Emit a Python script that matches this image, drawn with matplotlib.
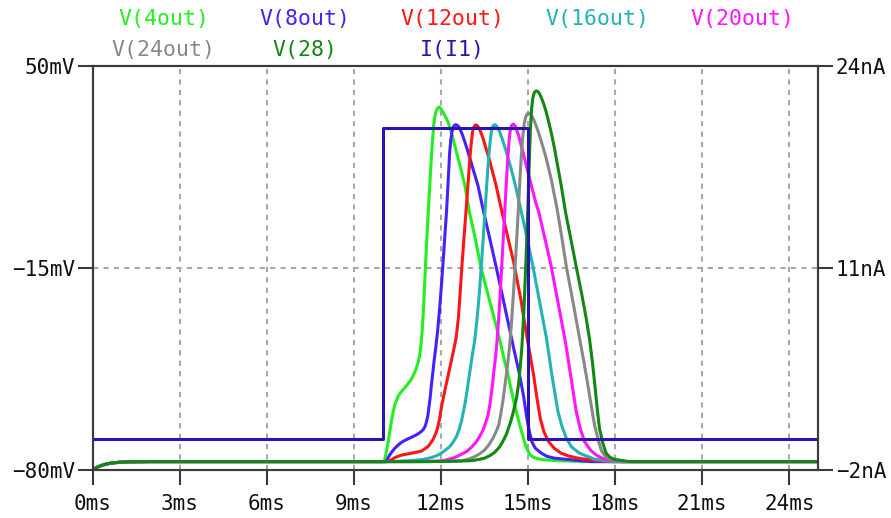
import matplotlib
matplotlib.use("Agg")
import matplotlib.pyplot as plt

# ---------------- data ----------------
rest_t = [0.0, 0.1, 0.2, 0.35, 0.5, 0.7, 0.95, 1.3, 2.0]
rest_v = [-80.0, -79.4, -78.9, -78.4, -78.0, -77.7, -77.5, -77.35, -77.3]
end_t = 25.0
end_v = -77.3

v4_t = [10.0, 10.03, 10.06, 10.12, 10.18, 10.24, 10.29, 10.35, 10.41, 10.47, 10.52, 10.6, 10.69,
        10.78, 10.86, 10.95, 11.03, 11.1, 11.15, 11.22, 11.27, 11.31, 11.35, 11.39, 11.43, 11.48,
        11.53, 11.58, 11.63, 11.68, 11.72, 11.75, 11.78, 11.81, 11.85, 11.9, 11.94, 11.98, 12.03,
        12.09, 12.16, 12.24, 12.38, 12.53, 12.68, 12.82, 12.98, 13.18, 13.37, 13.57, 13.76, 13.9,
        14.02, 14.13, 14.31, 14.51, 14.71, 14.91, 15.05, 15.18, 15.34, 15.55, 15.8, 16.3, 17.0]
v4_v = [-77.3, -77.2, -76.8, -73.9, -70.9, -67.4, -64.4, -61.4, -59.0, -57.5, -56.3, -55.2, -54.2,
        -53.2, -52.3, -51.2, -49.9, -48.5, -47.2, -45.2, -42.8, -39.8, -35.5, -29.5, -21.5, -11.5,
        -2.5, 6.0, 14.5, 22.4, 27.5, 31.0, 33.3, 34.8, 35.9, 36.6, 36.8, 36.4, 35.8,
        34.8, 33.6, 32.1, 27.8, 22.4, 17.1, 11.7, 3.0, -5.5, -14.6, -21.8, -28.5, -33.6,
        -38.0, -42.5, -49.4, -58.0, -65.5, -72.0, -74.9, -75.9, -76.4, -76.7, -76.9, -77.1, -77.3]

v8_t = [10.0, 10.06, 10.12, 10.23, 10.32, 10.41, 10.52, 10.64, 10.75, 10.86, 11.0, 11.15, 11.27,
        11.38, 11.45, 11.5, 11.55, 11.58, 11.63, 11.67, 11.72, 11.76, 11.82, 11.88, 11.94, 12.0,
        12.06, 12.13, 12.19, 12.24, 12.3, 12.34, 12.38, 12.42, 12.46, 12.5, 12.55, 12.61, 12.66,
        12.72, 12.82, 12.93, 13.1, 13.27, 13.47, 13.68, 13.9, 14.13, 14.37, 14.52, 14.71, 14.85,
        14.96, 15.05, 15.13, 15.25, 15.46, 15.65, 15.91, 16.6, 17.2]
v8_v = [-77.3, -77.3, -77.1, -75.2, -74.0, -73.0, -72.0, -71.1, -70.5, -70.0, -69.4, -68.7, -68.0,
        -67.1, -66.0, -64.5, -62.4, -60.1, -56.5, -52.6, -48.6, -45.1, -40.6, -35.6, -29.5, -22.5,
        -14.8, -5.0, 3.0, 11.7, 22.4, 26.3, 28.9, 30.2, 30.9, 31.1, 31.0, 30.5, 29.6,
        28.3, 25.6, 22.4, 17.0, 11.7, 3.0, -5.5, -14.6, -24.5, -35.0, -41.5, -49.4, -56.5,
        -63.4, -67.8, -70.9, -73.0, -74.6, -75.6, -76.2, -76.8, -77.3]

v12_t = [10.0, 10.1, 10.23, 10.41, 10.64, 10.98, 11.33, 11.55, 11.72, 11.8, 11.88, 11.95, 12.01,
         12.08, 12.15, 12.3, 12.45, 12.52, 12.6, 12.66, 12.72, 12.79, 12.86, 12.93, 12.99, 13.04,
         13.09, 13.13, 13.18, 13.24, 13.3, 13.37, 13.45, 13.56, 13.68, 13.9, 14.1, 14.3, 14.5,
         14.75, 14.94, 15.07, 15.19, 15.3, 15.42, 15.55, 15.71, 15.9, 16.14, 16.4, 16.72, 17.29, 17.8]
v12_v = [-77.3, -77.3, -77.1, -76.0, -75.2, -74.6, -73.9, -72.5, -70.3, -68.7, -66.6, -63.6, -60.1,
         -56.8, -53.7, -47.3, -40.8, -37.6, -31.0, -23.0, -14.6, -5.5, 3.0, 12.0, 19.5, 25.0,
         28.9, 30.3, 31.0, 30.9, 30.2, 28.7, 26.7, 23.2, 19.4, 11.5, 3.0, -5.0, -13.0,
         -25.0, -36.0, -43.0, -49.4, -56.5, -63.4, -67.8, -70.9, -73.0, -74.6, -75.5, -76.2, -76.9, -77.3]

v16_t = [10.0, 10.5, 11.09, 11.4, 11.67, 11.85, 12.01, 12.15, 12.3, 12.42, 12.53, 12.62, 12.7,
         12.77, 12.84, 12.9, 12.96, 13.02, 13.08, 13.16, 13.23, 13.3, 13.37, 13.44, 13.51, 13.57,
         13.63, 13.68, 13.73, 13.77, 13.82, 13.87, 13.93, 14.02, 14.12, 14.25, 14.4, 14.56, 14.77,
         14.97, 15.17, 15.4, 15.63, 15.72, 15.82, 15.93, 16.03, 16.17, 16.32, 16.5, 16.77, 17.29, 17.9]
v16_v = [-77.3, -77.2, -76.9, -76.6, -76.0, -75.4, -74.6, -73.6, -72.5, -71.0, -69.3, -67.1, -64.5,
         -61.4, -58.0, -54.4, -50.5, -46.8, -43.0, -38.5, -32.5, -25.5, -17.0, -7.5, 2.5, 11.0,
         19.0, 24.5, 28.5, 30.3, 31.0, 31.1, 30.5, 28.9, 26.3, 22.4, 17.5, 11.7, 3.0,
         -5.5, -14.6, -26.0, -37.4, -43.0, -49.4, -55.6, -61.2, -66.0, -69.8, -72.6, -74.6, -76.5, -77.3]

v20_t = [10.0, 11.0, 11.6, 12.01, 12.25, 12.47, 12.67, 12.87, 13.05, 13.22, 13.35, 13.45, 13.54,
         13.62, 13.68, 13.73, 13.78, 13.82, 13.87, 13.91, 13.96, 14.01, 14.06, 14.11, 14.16, 14.21,
         14.26, 14.31, 14.35, 14.39, 14.44, 14.5, 14.56, 14.61, 14.67, 14.74, 14.82, 14.96,
         15.11, 15.25, 15.37, 15.58, 15.8, 16.03, 16.26, 16.35, 16.43, 16.55, 16.66, 16.8, 16.95,
         17.15, 17.35, 17.55, 17.75, 18.2]
v20_v = [-77.3, -77.3, -77.2, -77.1, -76.6, -76.0, -75.1, -74.1, -72.7, -70.9, -68.9, -67.1, -64.8,
         -62.3, -59.3, -55.9, -52.0, -48.4, -44.5, -40.8, -35.0, -28.0, -20.0, -11.5, -3.0, 5.5,
         14.0, 21.5, 26.5, 29.5, 31.0, 31.3, 30.6, 29.3, 27.8, 25.3, 22.4, 17.2,
         11.7, 6.5, 3.0, -5.5, -14.6, -26.0, -37.4, -42.5, -47.3, -54.5, -61.2, -66.8, -70.9,
         -73.6, -75.2, -76.2, -76.8, -77.3]

v24_t = [10.0, 11.5, 12.2, 12.7, 12.95, 13.16, 13.33, 13.5, 13.65, 13.79, 13.91, 13.99, 14.06,
         14.13, 14.19, 14.25, 14.31, 14.37, 14.43, 14.49, 14.55, 14.61, 14.67, 14.72, 14.77, 14.82,
         14.87, 14.92, 14.97, 15.03, 15.1, 15.17, 15.25, 15.35, 15.46, 15.62, 15.8, 16.0, 16.16,
         16.32, 16.55, 16.77, 16.92, 17.06, 17.18, 17.29, 17.41, 17.52, 17.65, 17.81, 18.2]
v24_v = [-77.3, -77.3, -77.2, -77.1, -76.5, -75.7, -74.8, -73.6, -71.9, -69.8, -67.4, -65.5, -62.0,
         -58.0, -53.7, -49.4, -44.9, -39.5, -32.5, -24.0, -15.0, -5.5, 4.5, 13.5, 21.5, 27.5,
         31.5, 33.6, 34.6, 34.8, 34.4, 33.2, 31.5, 28.9, 25.6, 20.5, 13.5, 4.0, -5.0,
         -14.6, -26.0, -37.4, -45.0, -52.6, -59.5, -65.5, -70.0, -73.6, -75.5, -76.6, -77.3]

v28_t = [10.0, 11.5, 12.3, 12.7, 13.05, 13.3, 13.5, 13.7, 13.85, 14.0, 14.12, 14.25, 14.4,
         14.5, 14.6, 14.67, 14.73, 14.79, 14.85, 14.9, 14.95, 15.0, 15.04, 15.08, 15.12, 15.16,
         15.21, 15.28, 15.34, 15.4, 15.47, 15.55, 15.62, 15.68, 15.8, 15.91, 16.02, 16.14,
         16.29, 16.47, 16.66, 16.85, 17.0, 17.12, 17.22, 17.3, 17.38, 17.46, 17.58, 17.69, 17.82,
         17.98, 18.5]
v28_v = [-77.3, -77.3, -77.2, -77.1, -77.0, -76.6, -76.2, -75.3, -74.3, -72.8, -71.0, -68.6, -64.5,
         -61.0, -57.0, -52.5, -47.0, -40.0, -30.0, -19.0, -7.0, 6.0, 19.0, 29.5, 36.0, 39.5,
         41.4, 42.0, 41.8, 41.0, 39.5, 37.5, 35.3, 33.2, 28.5, 23.5, 17.8, 11.7,
         3.0, -5.5, -14.6, -23.5, -31.0, -38.0, -45.5, -52.6, -60.0, -66.6, -71.5, -74.6, -75.9,
         -76.6, -77.3]

i1_t = [0.0, 10.0, 10.0, 15.0, 15.0, 25.0]
i1_v = [0.0, 0.0, 20.0, 20.0, 0.0, 0.0]

series_names = ["V(4out)", "V(8out)", "V(12out)", "V(16out)", "V(20out)", "V(24out)", "V(28)"]
series_t = [v4_t, v8_t, v12_t, v16_t, v20_t, v24_t, v28_t]
series_v = [v4_v, v8_v, v12_v, v16_v, v20_v, v24_v, v28_v]
current_name = "I(I1)"

x_ticks = [0, 3, 6, 9, 12, 15, 18, 21, 24]
x_labels = ["0ms", "3ms", "6ms", "9ms", "12ms", "15ms", "18ms", "21ms", "24ms"]
v_ticks = [-80, -15, 50]
v_labels = ["\u221280mV", "\u221215mV", "50mV"]
i_ticks = [-2, 11, 24]
i_labels = ["\u22122nA", "11nA", "24nA"]

# ---------------- style ----------------
colors = ["#22ee22", "#4422ff", "#ff1515", "#20b4b4", "#ff15ff", "#888888", "#118811"]
i_color = "#2c12b0"
mono = ["DejaVu Sans Mono"]
frame_c = "#3a3a3a"

fig = plt.figure(figsize=(8.91, 5.18), dpi=100)
ax = fig.add_axes([92.7 / 891, 48 / 518, 725.6 / 891, 404 / 518])

for t, v, c in zip(series_t, series_v, colors):
    tt = rest_t + t + [end_t]
    vv = rest_v + v + [end_v]
    ax.plot(tt, vv, color=c, lw=2.2, solid_joinstyle="round", solid_capstyle="round")

ax.set_xlim(0, 25)
ax.set_ylim(-80, 50)
ax.set_xticks(x_ticks)
ax.set_xticklabels(x_labels)
ax.set_yticks(v_ticks)
ax.set_yticklabels(v_labels)

ax2 = ax.twinx()
ax2.plot(i1_t, i1_v, color=i_color, lw=2.2)
ax2.set_ylim(-2, 24)
ax2.set_yticks(i_ticks)
ax2.set_yticklabels(i_labels)

grid_kw = dict(color="#a8a8a8", lw=1.5, ls=(0, (2.5, 2.5)))
for x in x_ticks[1:]:
    ax.axvline(x, zorder=0.5, **grid_kw)
ax.axhline(-15, zorder=0.5, **grid_kw)

for a in (ax, ax2):
    for s in a.spines.values():
        s.set_color(frame_c)
        s.set_linewidth(1.5)
    a.tick_params(length=11, width=1.5, color=frame_c, labelsize=15)
    a.tick_params(axis="y", pad=1.5)
    a.tick_params(axis="x", pad=6)
    for lab in a.get_xticklabels() + a.get_yticklabels():
        lab.set_family(mono)
        lab.set_color("#111111")

# legend texts
row1_y = 1 - 19 / 518
row2_y = 1 - 50 / 518
pos = [(164, row1_y), (305, row1_y), (452, row1_y), (597, row1_y), (742, row1_y),
       (163, row2_y), (305, row2_y)]
for name, c, (px, py) in zip(series_names, colors, pos):
    fig.text(px / 891, py, name, color=c, ha="center", va="center", fontsize=15.5, family=mono)
fig.text(452 / 891, row2_y, current_name, color=i_color, ha="center", va="center", fontsize=15.5,
         family=mono)

fig.savefig("out.png", dpi=100)
